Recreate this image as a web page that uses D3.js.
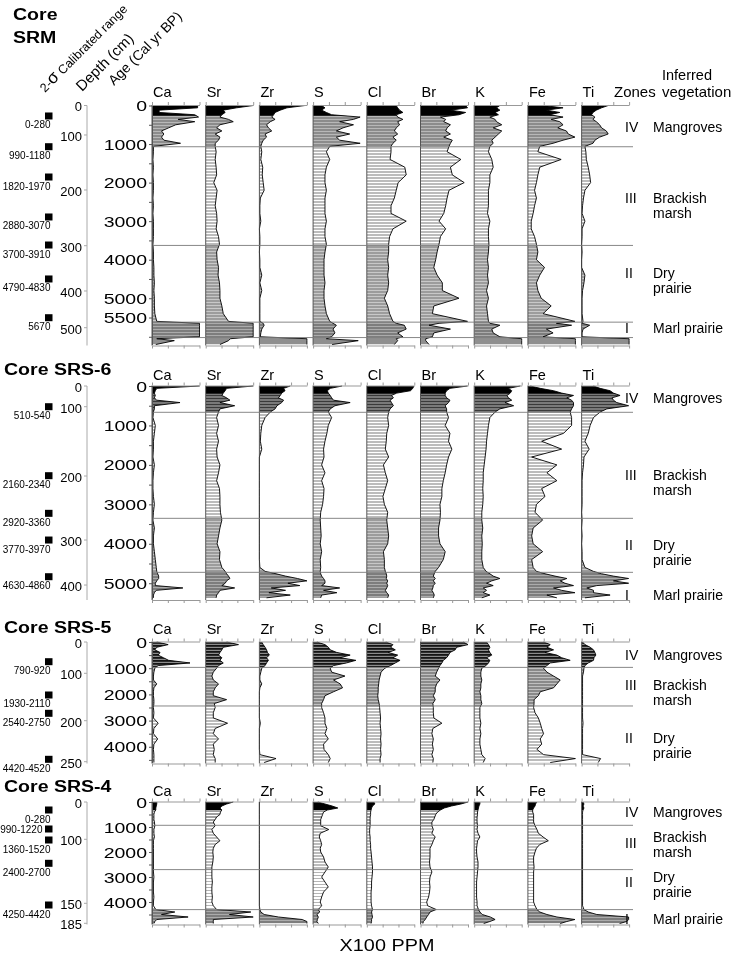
<!DOCTYPE html>
<html>
<head>
<meta charset="utf-8">
<script src="https://cdn.jsdelivr.net/npm/d3@7"></script>
<style>
  body { margin: 0; background: #fff; }
  svg { will-change: transform; }
  svg text { font-family: "Liberation Sans", Arial, sans-serif; fill: #000; }
</style>
</head>
<body>
<svg width="735" height="954"></svg>
<script>
// element columns, same for every core
var elements = ["Ca", "Sr", "Zr", "S", "Cl", "Br", "K", "Fe", "Ti"];

// ---------- Core SRM (values in % of panel width) ----------
var srmAges = [0,60,120,180,240,300,360,420,500,580,660,740,820,900,980,1060,1200,1400,1600,1800,2000,2200,2400,2600,2800,3000,3200,3400,3600,3800,4000,4200,4400,4600,4800,5000,5200,5400,5600,5650,5700,5800,5900,6000,6050,6100,6200];
var srmCa = [96,96,15,15,90,98,55,90,50,35,20,25,20,25,60,3, 3,2,3,2,3,3,2,3,2,3,3,3,2,3,3,4,4,5,4,5,5,6,10, 100,100,100,100,100,10,47,8];
var srmSr = [100,65,37,41,34,30,48,58,30,23,34,20,30,27,20,20, 22,20,22,23,17,24,22,20,23,24,22,27,29,23,24,27,26,29,30,30,34,37,48, 100,100,100,100,100,52,48,30];
var srmZr = [96,58,44,33,30,26,33,23,15,19,26,12,15,8,5,3, 5,3,7,6,8,10,2,1,1,3,0,1,1,0,1,1,5,1,5,1,1,1,1, 8,10,5,3,2,100,100,100];
var srmS  = [18,25,18,28,39,99,85,56,85,63,49,77,49,56,99,35, 28,35,28,25,25,28,25,25,25,28,25,25,28,25,23,23,23,25,23,23,25,28,35, 42,49,42,46,39,28,95,40];
var srmCl = [62,65,69,76,62,65,76,65,69,62,58,65,55,62,55,51, 51,49,80,83,66,62,58,51,51,83,55,48,46,46,44,46,44,46,44,37,44,48,55, 62,79,83,65,76,62,65,58];
var srmBr = [95,99,63,95,81,42,53,49,63,56,53,63,49,67,63,60, 56,85,63,67,92,60,56,53,49,39,53,42,39,35,32,28,35,46,46,81,28,25,99, 39,18,63,28,25,11,11,18];
var srmK  = [54,47,54,44,51,33,44,47,58,40,58,51,44,37,40,33, 30,37,40,33,33,30,30,30,28,33,30,30,31,30,28,30,28,30,26,30,26,28,30, 33,54,37,40,54,100,100,100];
var srmFe = [32,74,39,67,46,74,49,67,74,63,81,85,99,74,53,25, 21,70,25,21,18,14,18,14,11,7,7,14,18,21,18,35,25,18,21,28,49,32,99, 60,92,39,53,32,100,100,100];
var srmTi = [56,42,31,24,21,28,24,31,38,42,52,56,38,28,24,7, 9,10,14,17,19,7,4,2,1,7,1,1,0,1,0,0,7,5,2,1,1,1,3, 1,17,3,1,1,100,100,100];
var srmZoneAges = [1070, 3630, 5620, 6020];
var srmDepths = [0, 100, 200, 300, 400, 500];
var srmDepthAges = [0, 765, 2192, 3637, 4812, 5764];
var srmAgeLabels = [0, 1000, 2000, 3000, 4000, 5000, 5500];
var srmDates = ["0-280", "990-1180", "1820-1970", "2880-3070", "3700-3910", "4790-4830", "5670"];
var srmDateAges = [272, 1069, 1855, 2892, 3619, 4500, 5505];

// ---------- Core SRS-6 ----------
var srs6Ages = [0,60,120,180,240,300,360,420,500,580,660,800,1000,1200,1400,1600,1800,2000,2200,2400,2600,2800,3000,3200,3400,3600,3800,4000,4200,4400,4600,4700,4760,4820,4880,4940,5000,5060,5120,5180,5240,5300,5370];
var srs6Ca = [100,10,7,5,7,5,10,59,5,5,3, 2, 7,5,3,3,2,5,3,2,2,3,5,3,2,5,3,3,5,7,9, 10,12,14,14,10,7,7,65,9,5,3,3];
var srs6Sr = [100,44,41,37,34,44,51,30,61,30,27, 23, 27,23,27,23,24,30,27,23,29,30,30,31,34,30,27,24,30,29,34, 41,44,48,51,44,41,34,61,30,27,23,22];
var srs6Zr = [65,51,54,47,44,40,51,47,37,33,23, 12, 5,3,2,5,0,0,0,0,0,0,0,0,0,0,0,0,0,0,1, 12,35,55,80,100,60,85,25,55,20,65,15];
var srs6S  = [61,36,30,32,36,39,43,78,46,36,32, 39, 32,29,25,22,23,18,25,18,23,22,20,16,15,16,17,15,18,15,16, 15,16,18,22,25,25,18,56,22,50,18,16];
var srs6Cl = [99,97,92,63,52,56,49,52,56,49,46, 44, 46,42,41,39,46,35,39,44,39,34,37,44,42,44,46,44,35,37,37, 39,41,42,41,44,42,44,42,39,42,46,44];
var srs6Br = [99,62,55,52,52,55,62,59,52,55,55, 59, 52,62,59,66,59,55,52,48,45,45,41,42,41,38,38,41,52,48,38, 31,29,27,31,27,31,27,26,24,27,29,27];
var srs6K  = [97,72,79,76,69,72,79,65,83,54,44, 33, 30,28,26,25,23,21,19,19,18,19,18,16,16,18,16,17,16,16,19, 25,33,40,54,37,26,40,19,26,19,33,16];
var srs6Fe = [5,26,54,71,96,82,92,96,96,92,89, 92, 92,75,29,71,8,61,40,61,29,36,18,15,31,11,8,11,31,8,11, 18,36,57,82,68,78,96,54,71,99,40,61];
var srs6Ti = [25,39,60,67,81,64,67,74,99,53,39, 25, 18,14,7,16,5,4,2,1,1,1,1,0,1,0,1,0,1,1,7, 25,42,67,99,67,99,32,11,25,25,60,7];
var srs6ZoneAges = [667, 3355, 4724];
var srs6Depths = [0, 100, 200, 300, 400];
var srs6DepthAges = [0, 525, 2282, 3905, 5046];
var srs6AgeLabels = [0, 1000, 2000, 3000, 4000, 5000];
var srs6Dates = ["510-540", "2160-2340", "2920-3360", "3770-3970", "4630-4860"];
var srs6DateAges = [525, 2274, 3228, 3905, 4835];

// ---------- Core SRS-5 ----------
var srs5Ages = [0,100,200,300,400,500,600,700,800,900,1000,1150,1300,1450,1600,1750,1900,2050,2200,2350,2500,2700,2900,3100,3300,3500,3700,3900,4100,4300,4450,4600];
var srs5Ca = [10,34,10,6,17,13,24,35,80,13,6, 4,3,3,10,4,3,3,4,4,3, 4,3,13,4,3,12,4,3,4, 4,4];
var srs5Sr = [44,69,37,34,30,27,34,30,37,27,23, 16,13,16,27,20,16,16,44,18,20, 16,16,46,20,16,27,16,18,16, 20,20];
var srs5Zr = [5,8,12,15,17,21,15,19,15,12,5, 3,1,1,5,1,0,0,0,0,0, 0,0,2,0,0,0,0,0,1, 35,10];
var srs5S  = [8,25,32,36,50,78,57,90,70,43,36, 39,67,43,57,62,43,25,22,18,18, 22,25,25,29,25,32,22,23,32, 36,32];
var srs5Cl = [40,55,50,60,45,65,55,70,60,50,38, 30,28,26,25,24,24,23,24,26,27, 28,29,28,29,30,29,30,29,30, 28,28];
var srs5Br = [90,100,76,73,62,59,55,48,45,41,38, 34,31,41,34,31,31,27,31,26,27, 27,28,45,26,24,27,25,27,24, 27,26];
var srs5K  = [26,30,33,30,33,37,26,33,30,25,16, 14,14,16,14,14,12,14,14,16,12, 12,12,14,12,14,12,12,14,16, 23,19];
var srs5Fe = [33,47,40,54,36,61,71,89,47,40,33, 40,54,68,61,54,26,22,13,13,12, 15,22,26,29,33,26,29,19,33, 100,47];
var srs5Ti = [2,7,18,25,28,30,26,25,14,7,5, 4,2,2,2,2,2,2,2,2,2, 2,2,3,2,2,2,2,2,2, 40,35];
var srs5ZoneAges = [969, 2442];
var srs5Depths = [0, 100, 200, 250];
var srs5DepthAges = [0, 1195, 3004, 4569];
var srs5AgeLabels = [0, 1000, 2000, 3000, 4000];
var srs5Dates = ["790-920", "1930-2110", "2540-2750", "4420-4520"];
var srs5DateAges = [752, 2023, 2722, 4478];

// ---------- Core SRS-4 ----------
var srs4Ages = [0,80,160,240,320,400,500,600,700,800,950,1100,1250,1400,1550,1700,1850,2000,2200,2400,2600,2800,3000,3200,3400,3600,3800,4000,4150,4300,4400,4500,4600,4700,4780,4860];
var srs4Ca = [10,10,9,8,8,5, 4,4,4,5, 6,4,4,5,3,3,3, 3,3,3,3,3,4,3,3,3,4,3, 3,8,48,20,76,10,6,4];
var srs4Sr = [58,44,34,30,34,31, 30,23,20,16, 20,13,16,23,30,20,16, 15,16,15,13,13,13,14,13,13,14,13, 16,23,95,50,100,16,16,16];
var srs4Zr = [0,0,0,0,0,0, 0,0,0,0, 0,0,0,0,0,0,0, 0,0,0,0,0,0,0,0,0,0,0, 0,1,3,10,40,90,100,100];
var srs4S  = [10,25,40,52,30,22, 20,18,16,16, 16,33,15,13,16,18,15, 16,22,25,32,25,18,25,32,22,18,15, 18,11,14,8,11,9,8,11];
var srs4Cl = [15,17,12,10,9,8, 8,7,7,7, 7,6,6,7,7,8,8, 9,10,11,12,12,11,10,10,9,9,9, 10,12,10,11,12,10,10,9];
var srs4Br = [100,85,65,50,42,36, 32,30,28,24, 24,27,24,31,27,24,20, 20,20,19,20,24,20,19,20,19,17,13, 15,33,20,17,13,10,6,5];
var srs4K  = [12,12,10,9,8,7, 7,6,6,6, 7,6,8,12,7,6,5, 5,6,8,8,7,6,5,5,5,5,6, 6,9,12,17,34,44,33,20];
var srs4Fe = [19,16,15,12,10,10, 12,12,12,12, 15,19,22,32,43,25,18, 15,12,12,13,12,12,12,12,12,12,12, 15,19,25,40,61,99,82,68];
var srs4Ti = [3,5,3,5,3,2, 2,2,2,2, 2,2,2,2,2,2,2, 2,2,2,2,2,2,2,2,2,2,2, 2,5,14,32,99,99,95,80];
var srs4ZoneAges = [932, 2704, 4304];
var srs4Depths = [0, 100, 150, 185];
var srs4DepthAges = [0, 1492, 4052, 4852];
var srs4AgeLabels = [0, 1000, 2000, 3000, 4000];
var srs4Dates = ["0-280", "990-1220", "1360-1520", "2400-2700", "4250-4420"];
var srs4DateAges = [320, 1080, 1520, 2452, 4120];

// ---------- fills (horizontal sample stripes) ----------
var svg = d3.select("svg");
var defs = svg.append("defs");

function stripes(id, bg, fg, period, h) {
  var p = defs.append("pattern").attr("id", id)
    .attr("patternUnits", "userSpaceOnUse")
    .attr("width", 10).attr("height", period);
  p.append("rect").attr("width", 10).attr("height", period).attr("fill", bg);
  p.append("rect").attr("y", period - h).attr("width", 10).attr("height", h).attr("fill", fg);
}
stripes("fIV", "#8c8c8c", "#b8b8b8", 3, 1);
stripes("fLight", "#bcbcbc", "#ffffff", 3, 1);
stripes("fMid", "#9c9c9c", "#c8c8c8", 3, 1);
stripes("fDark", "#7d7d7d", "#ababab", 3, 1);
stripes("f6IV", "#7a7a7a", "#3a3a3a", 3, 1);
stripes("f5IV", "#151515", "#8c8c8c", 3, 1.2);
stripes("f5III", "#8a8a8a", "#c0c0c0", 3, 1);
stripes("f4IV", "#a0a0a0", "#ffffff", 3, 1);
stripes("f4II", "#ffffff", "#b5b5b5", 3, 1);

var cores = [
  { title: ["Core", "SRM"], titleY: [19.5, 43], titleX: 13,
    ages: srmAges, series: [srmCa, srmSr, srmZr, srmS, srmCl, srmBr, srmK, srmFe, srmTi],
    zones: srmZoneAges, depths: srmDepths, depthAges: srmDepthAges, ageLabels: srmAgeLabels,
    dates: srmDates, dateAges: srmDateAges, inline: [],
    top: 105.5, bottom: 344.5, ageMax: 6200, headY: 97,
    bands: [[0, 270, "#000"], [270, 1070, "url(#fIV)"], [1070, 3630, "url(#fLight)"],
            [3630, 5620, "url(#fMid)"], [5620, 6020, "url(#fDark)"], [6020, 6200, "#8f8f8f"]],
    labels: [{ n: "IV", ny: 550, t: ["Mangroves"], ty: 550 },
             { n: "III", ny: 2400, t: ["Brackish", "marsh"], ty: 2400 },
             { n: "II", ny: 4345, t: ["Dry", "prairie"], ty: 4345 },
             { n: "I", ny: 5772, t: ["Marl prairie"], ty: 5772 }] },
  { title: ["Core SRS-6"], titleY: [375], titleX: 4,
    ages: srs6Ages, series: [srs6Ca, srs6Sr, srs6Zr, srs6S, srs6Cl, srs6Br, srs6K, srs6Fe, srs6Ti],
    zones: srs6ZoneAges, depths: srs6Depths, depthAges: srs6DepthAges, ageLabels: srs6AgeLabels,
    dates: srs6Dates, dateAges: srs6DateAges, inline: [],
    top: 386, bottom: 599, ageMax: 5400, headY: 380,
    bands: [[0, 200, "#000"], [200, 667, "url(#f6IV)"], [667, 3355, "url(#fLight)"],
            [3355, 4724, "url(#fMid)"], [4724, 5400, "url(#fDark)"]],
    labels: [{ n: "IV", ny: 312, t: ["Mangroves"], ty: 312 },
             { n: "III", ny: 2257, t: ["Brackish", "marsh"], ty: 2257 },
             { n: "II", ny: 4031, t: ["Dry", "prairie"], ty: 4031 },
             { n: "I", ny: 5299, t: ["Marl prairie"], ty: 5299 }] },
  { title: ["Core SRS-5"], titleY: [632.5], titleX: 4,
    ages: srs5Ages, series: [srs5Ca, srs5Sr, srs5Zr, srs5S, srs5Cl, srs5Br, srs5K, srs5Fe, srs5Ti],
    zones: srs5ZoneAges, depths: srs5Depths, depthAges: srs5DepthAges, ageLabels: srs5AgeLabels,
    dates: srs5Dates, dateAges: srs5DateAges, inline: [],
    top: 642, bottom: 762.5, ageMax: 4600, headY: 634,
    bands: [[0, 969, "url(#f5IV)"], [969, 2442, "url(#f5III)"], [2442, 4600, "url(#fLight)"]],
    labels: [{ n: "IV", ny: 496, t: ["Mangroves"], ty: 496 },
             { n: "III", ny: 1641, t: ["Brackish", "marsh"], ty: 1641 },
             { n: "II", ny: 3665, t: ["Dry", "prairie"], ty: 3665 }] },
  { title: ["Core SRS-4"], titleY: [792], titleX: 4,
    ages: srs4Ages, series: [srs4Ca, srs4Sr, srs4Zr, srs4S, srs4Cl, srs4Br, srs4K, srs4Fe, srs4Ti],
    zones: srs4ZoneAges, depths: srs4Depths, depthAges: srs4DepthAges, ageLabels: srs4AgeLabels,
    dates: srs4Dates, dateAges: srs4DateAges, inline: [1],
    top: 802, bottom: 923.5, ageMax: 4860, headY: 796,
    bands: [[0, 330, "#000"], [330, 932, "url(#f4IV)"], [932, 2704, "url(#fLight)"],
            [2704, 4304, "url(#f4II)"], [4304, 4860, "url(#fDark)"]],
    labels: [{ n: "IV", ny: 388, t: ["Mangroves"], ty: 388 },
             { n: "III", ny: 1652, t: ["Brackish", "marsh"], ty: 1388 },
             { n: "II", ny: 3188, t: ["Dry", "prairie"], ty: 2988 },
             { n: "I", ny: 4692, t: ["Marl prairie"], ty: 4692 }] }
];

var panelX0 = 152, panelStep = 53.7, panelW = 47.5, lineEnd = 633;
var x = d3.scaleLinear().domain([0, 100]).range([0, panelW]).clamp(true);

// text stretched horizontally like the original
function wideText(g, tx, ty, s, txt, size, weight, anchor) {
  return g.append("text")
    .attr("transform", "translate(" + tx + "," + ty + ") scale(" + s + ",1)")
    .attr("text-anchor", anchor || "start")
    .style("font-size", size + "px")
    .style("font-weight", weight || "normal")
    .text(txt);
}

cores.forEach(function (c, ci) {
  var y = d3.scaleLinear().domain([0, c.ageMax]).range([c.top, c.bottom]);
  var g = svg.append("g");

  // core title
  c.title.forEach(function (t, k) {
    wideText(g, c.titleX, c.titleY[k], 1.15, t, 17, "bold");
  });

  elements.forEach(function (el, i) {
    var pg = g.append("g").attr("transform", "translate(" + (panelX0 + i * panelStep) + ",0)");
    var data = c.ages.map(function (a, k) { return { a: a, v: c.series[i][k] }; });

    var area = d3.area().x0(0).x1(function (d) { return x(d.v); }).y(function (d) { return y(d.a); });
    var line = d3.line().x(function (d) { return x(d.v); }).y(function (d) { return y(d.a); });

    var clipId = "clip-" + ci + "-" + i;
    defs.append("clipPath").attr("id", clipId).append("path").attr("d", area(data));

    pg.append("g").attr("clip-path", "url(#" + clipId + ")")
      .selectAll("rect").data(c.bands).enter().append("rect")
      .attr("x", 0).attr("width", panelW)
      .attr("y", function (d) { return y(d[0]); })
      .attr("height", function (d) { return y(d[1]) - y(d[0]); })
      .attr("fill", function (d) { return d[2]; });

    pg.append("path").attr("d", line(data))
      .attr("fill", "none").attr("stroke", "#000").attr("stroke-width", 0.9)
      .attr("stroke-linejoin", "round");

    // panel baseline
    pg.append("line").attr("x1", 0).attr("x2", 0)
      .attr("y1", c.top - 0.5).attr("y2", c.bottom + 1)
      .attr("stroke", "#444").attr("stroke-width", 0.9);

    // top and bottom scale bars
    var tv = [0, 100 / 3, 200 / 3, 100];
    pg.append("g").attr("transform", "translate(0," + (c.top - 0.5) + ")")
      .call(d3.axisTop(x).tickValues(tv).tickSize(3).tickSizeOuter(0).tickFormat(""))
      .call(function (a) { a.selectAll("path,line").attr("stroke", "#999"); });
    pg.append("g").attr("transform", "translate(0," + (c.bottom + 1) + ")")
      .call(d3.axisBottom(x).tickValues(tv).tickSize(3).tickSizeOuter(0).tickFormat(""))
      .call(function (a) { a.selectAll("path,line").attr("stroke", "#999"); });

    pg.append("text").attr("x", 1).attr("y", c.headY)
      .style("font-size", "14.5px").text(el);
  });

  // zone boundaries
  g.selectAll(".zone").data(c.zones).enter().append("line")
    .attr("x1", panelX0).attr("x2", lineEnd)
    .attr("y1", function (d) { return y(d); }).attr("y2", function (d) { return y(d); })
    .attr("stroke", "#7a7a7a").attr("stroke-width", 0.9);

  // age axis
  g.append("g").attr("transform", "translate(" + panelX0 + ",0)")
    .call(d3.axisLeft(y).tickValues(d3.range(0, c.ageMax + 1, 500)).tickSize(3).tickSizeOuter(0).tickFormat(""))
    .call(function (a) { a.selectAll("path,line").attr("stroke", "#555"); });
  c.ageLabels.forEach(function (v) {
    wideText(g, 147, y(v) + 5.5, 1.3, v, 15, "normal", "end");
  });

  // depth axis
  g.append("line").attr("x1", 87).attr("x2", 87)
    .attr("y1", y(0)).attr("y2", c.bottom + 1)
    .attr("stroke", "#aaa");
  c.depthAges.forEach(function (a, k) {
    g.append("line").attr("x1", 84).attr("x2", 87)
      .attr("y1", y(a)).attr("y2", y(a)).attr("stroke", "#aaa");
    g.append("text").attr("x", 82).attr("y", y(a)).attr("dy", "0.45em")
      .attr("text-anchor", "end").style("font-size", "13px").text(c.depths[k]);
  });

  // radiocarbon dates
  c.dateAges.forEach(function (a, k) {
    var yc = y(a);
    g.append("rect").attr("x", 45).attr("y", yc - 3.5).attr("width", 7.5).attr("height", 7)
      .attr("fill", "#000");
    var inl = c.inline.indexOf(k) >= 0;
    g.append("text")
      .attr("x", inl ? 42.5 : 50.5)
      .attr("y", inl ? yc + 3.5 : yc + 12.5)
      .attr("text-anchor", "end").style("font-size", "10px")
      .text(c.dates[k]);
  });

  // zones and inferred vegetation
  c.labels.forEach(function (L) {
    g.append("text").attr("x", 625).attr("y", y(L.ny)).attr("dy", "0.35em")
      .style("font-size", "14px").text(L.n);
    L.t.forEach(function (t, k) {
      g.append("text").attr("x", 653).attr("y", y(L.ty) + k * 15).attr("dy", "0.35em")
        .style("font-size", "14px").text(t);
    });
  });
});

// header of the figure
var hdr = svg.append("g");
var t1 = hdr.append("text").attr("transform", "translate(45,93) rotate(-45)").style("font-size", "12.5px");
t1.append("tspan").text("2-");
t1.append("tspan").style("font-size", "17px").text("σ");
t1.append("tspan").text(" Calibrated range");
hdr.append("text").attr("transform", "translate(82,92) rotate(-45)").style("font-size", "15px").text("Depth (cm)");
hdr.append("text").attr("transform", "translate(114,86) rotate(-45)").style("font-size", "14px").text("Age (Cal yr BP)");
hdr.append("text").attr("x", 614).attr("y", 97).style("font-size", "15px").text("Zones");
hdr.append("text").attr("x", 662).attr("y", 80).style("font-size", "14.5px").text("Inferred");
hdr.append("text").attr("x", 662).attr("y", 97).style("font-size", "15px").text("vegetation");

wideText(svg, 387, 951, 1.24, "X100 PPM", 16, "normal", "middle");
</script>
</body>
</html>
